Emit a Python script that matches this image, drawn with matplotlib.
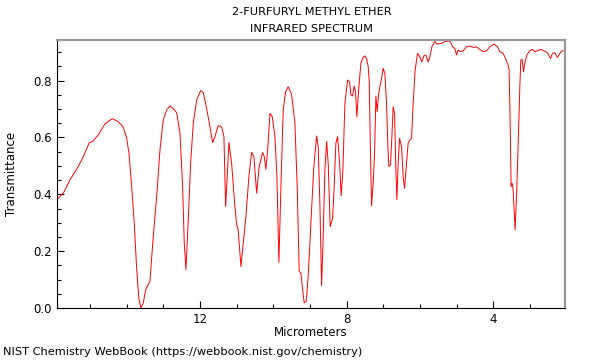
import matplotlib
matplotlib.use("Agg")
import matplotlib.pyplot as plt
from matplotlib.ticker import MultipleLocator

# spectrum (micrometers, transmittance)
micrometers = [
    15.908, 15.728, 15.545, 15.319, 15.182, 15.019, 14.937, 14.773, 14.591, 14.392,
    14.228, 14.092, 13.999, 13.936, 13.863, 13.792, 13.726, 13.664, 13.609, 13.546,
    13.481, 13.364, 13.274, 13.181, 13.091, 13.001, 12.908, 12.818, 12.728, 12.635,
    12.545, 12.472, 12.428, 12.382, 12.319, 12.254, 12.183, 12.090, 11.981, 11.910,
    11.817, 11.727, 11.654, 11.591, 11.501, 11.408, 11.346, 11.299, 11.209, 11.136,
    11.046, 10.999, 10.956, 10.882, 10.819, 10.746, 10.664, 10.590, 10.527, 10.454,
    10.383, 10.290, 10.247, 10.200, 10.146, 10.091, 10.028, 9.955, 9.900, 9.846,
    9.791, 9.728, 9.663, 9.592, 9.499, 9.409, 9.347, 9.292, 9.246, 9.199,
    9.156, 9.101, 9.047, 8.973, 8.899, 8.818, 8.774, 8.728, 8.681, 8.638,
    8.591, 8.545, 8.501, 8.447, 8.381, 8.338, 8.291, 8.245, 8.190, 8.147,
    8.100, 8.046, 7.972, 7.918, 7.882, 7.836, 7.792, 7.754, 7.719, 7.664,
    7.609, 7.547, 7.500, 7.454, 7.410, 7.383, 7.356, 7.318, 7.274, 7.236,
    7.200, 7.165, 7.127, 7.091, 7.045, 7.001, 6.955, 6.909, 6.873, 6.846,
    6.800, 6.764, 6.729, 6.690, 6.655, 6.628, 6.592, 6.554, 6.500, 6.456,
    6.418, 6.363, 6.320, 6.273, 6.227, 6.183, 6.129, 6.063, 6.001, 5.946,
    5.891, 5.837, 5.774, 5.728, 5.673, 5.591, 5.529, 5.409, 5.319, 5.229,
    5.163, 5.109, 5.046, 5.000, 4.956, 4.910, 4.820, 4.727, 4.637, 4.547,
    4.454, 4.364, 4.274, 4.182, 4.092, 3.974, 3.882, 3.819, 3.729, 3.663,
    3.593, 3.565, 3.538, 3.511, 3.483, 3.456, 3.402, 3.363, 3.320, 3.273,
    3.246, 3.211, 3.173, 3.137, 3.082, 3.001, 2.938, 2.864, 2.791, 2.701,
    2.611, 2.518, 2.436, 2.382, 2.319, 2.245, 2.183, 2.120, 2.046,
]
transmittance = [
    0.381, 0.404, 0.451, 0.498, 0.533, 0.582, 0.585, 0.609, 0.648, 0.666,
    0.656, 0.636, 0.597, 0.544, 0.427, 0.299, 0.135, 0.030, 0.000, 0.018,
    0.065, 0.094, 0.252, 0.392, 0.556, 0.662, 0.697, 0.711, 0.702, 0.687,
    0.615, 0.427, 0.228, 0.135, 0.310, 0.509, 0.650, 0.732, 0.765, 0.758,
    0.702, 0.638, 0.582, 0.603, 0.642, 0.636, 0.603, 0.357, 0.582, 0.509,
    0.357, 0.293, 0.275, 0.146, 0.228, 0.322, 0.463, 0.548, 0.533, 0.404,
    0.498, 0.547, 0.533, 0.488, 0.568, 0.685, 0.673, 0.603, 0.463, 0.161,
    0.427, 0.697, 0.761, 0.779, 0.750, 0.650, 0.427, 0.129, 0.123, 0.065,
    0.018, 0.024, 0.111, 0.299, 0.486, 0.605, 0.568, 0.369, 0.079, 0.252,
    0.486, 0.586, 0.509, 0.287, 0.316, 0.427, 0.580, 0.603, 0.509, 0.395,
    0.486, 0.720, 0.802, 0.796, 0.750, 0.746, 0.781, 0.761, 0.673, 0.779,
    0.861, 0.882, 0.887, 0.878, 0.849, 0.802, 0.603, 0.360, 0.439, 0.544,
    0.746, 0.691, 0.750, 0.779, 0.808, 0.843, 0.825, 0.720, 0.568, 0.498,
    0.504, 0.603, 0.708, 0.685, 0.486, 0.381, 0.509, 0.597, 0.568, 0.463,
    0.421, 0.509, 0.580, 0.591, 0.597, 0.720, 0.837, 0.896, 0.884, 0.866,
    0.887, 0.890, 0.866, 0.884, 0.919, 0.938, 0.929, 0.931, 0.937, 0.940,
    0.936, 0.919, 0.913, 0.890, 0.908, 0.902, 0.905, 0.919, 0.922, 0.917,
    0.919, 0.910, 0.902, 0.905, 0.919, 0.929, 0.919, 0.902, 0.896, 0.878,
    0.855, 0.837, 0.662, 0.427, 0.439, 0.416, 0.275, 0.392, 0.568, 0.779,
    0.872, 0.875, 0.831, 0.861, 0.890, 0.905, 0.910, 0.902, 0.905, 0.910,
    0.905, 0.898, 0.878, 0.896, 0.898, 0.882, 0.896, 0.905, 0.905,
]

fig = plt.figure(figsize=(6, 3.6), dpi=100)
ax = fig.add_axes([0.095, 0.1444, 0.8467, 0.7445])

ax.plot(micrometers, transmittance, color="red", lw=0.7)

ax.set_xlim(15.9, 2.04)
ax.set_ylim(0, 0.943)
ax.xaxis.set_major_locator(MultipleLocator(4))
ax.xaxis.set_minor_locator(MultipleLocator(1))
ax.yaxis.set_major_locator(MultipleLocator(0.2))
ax.yaxis.set_minor_locator(MultipleLocator(0.05))
ax.tick_params(which="both", direction="in", labelsize=8.5, width=0.8)
ax.tick_params(which="major", length=5)
ax.tick_params(which="minor", length=3)

for s in ["top", "right"]:
    ax.spines[s].set_color("#999999")
    ax.spines[s].set_linewidth(1.6)
for s in ["left", "bottom"]:
    ax.spines[s].set_linewidth(0.8)

ax.set_xlabel("Micrometers", fontsize=8.5, labelpad=0)
ax.set_ylabel("Transmittance", fontsize=8.5, labelpad=11)

fig.text(0.52, 0.9667, "2-FURFURYL METHYL ETHER", ha="center", va="center", fontsize=8.2)
fig.text(0.52, 0.919, "INFRARED SPECTRUM", ha="center", va="center", fontsize=8.2)
fig.text(0.005, 0.022, "NIST Chemistry WebBook (https://webbook.nist.gov/chemistry)",
         ha="left", va="center", fontsize=8.2)

fig.savefig("out.png", dpi=100)
